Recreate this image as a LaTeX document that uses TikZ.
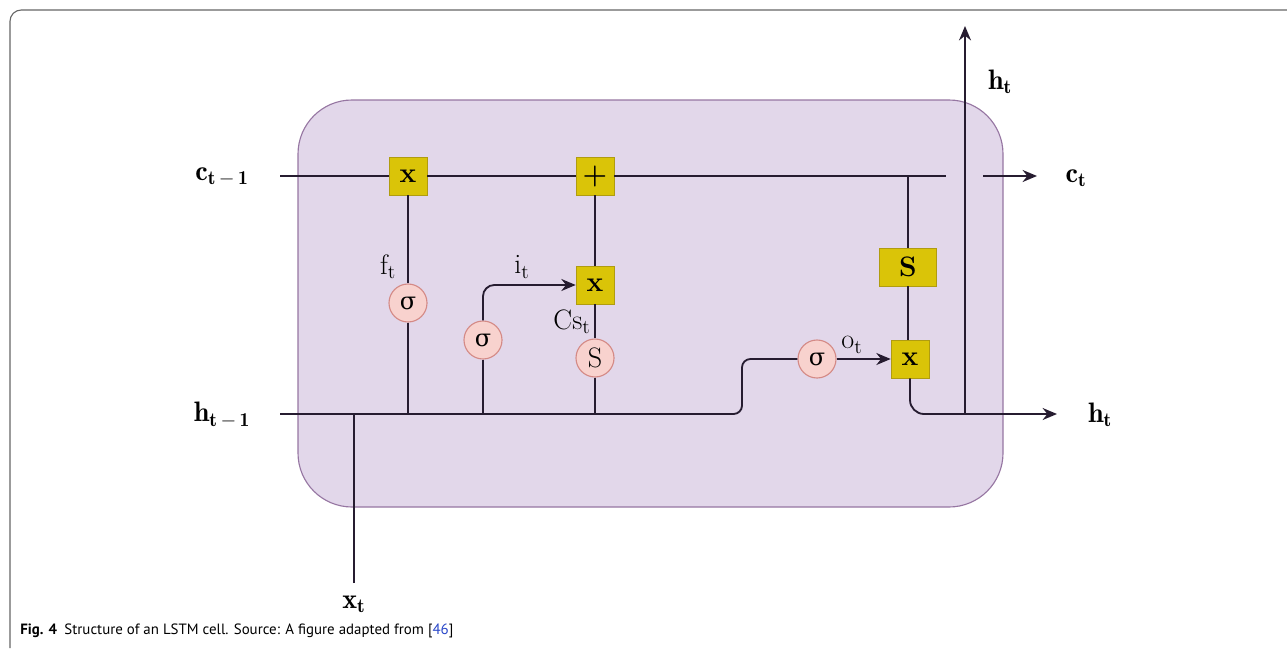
\documentclass[tikz,border=0pt]{standalone}
\usepackage{fontspec}
\newfontfamily\capfont{PT Sans}
\newfontfamily\grkfont{DejaVu Serif}
\usetikzlibrary{arrows.meta, positioning, calc}
\definecolor{cCell}{RGB}{226,215,234}
\definecolor{cCellEdge}{RGB}{150,118,162}
\definecolor{cGate}{RGB}{218,196,8}
\definecolor{cGateEdge}{RGB}{176,156,16}
\definecolor{cAct}{RGB}{248,210,206}
\definecolor{cActEdge}{RGB}{212,138,134}
\definecolor{cWire}{RGB}{38,28,48}
\definecolor{cRef}{RGB}{40,70,200}
\newcommand{\sig}{{\grkfont\fontsize{17}{17}\selectfont σ}}
\tikzset{
	gate/.style ={rectangle, draw=cGateEdge, fill=cGate, minimum width=0.95cm, minimum height=0.95cm, inner sep=0pt, font=\fontsize{20}{20}\selectfont\bfseries},
	act/.style  ={circle, draw=cActEdge, fill=cAct, thick, minimum size=0.95cm, inner sep=0pt, font=\fontsize{20}{20}\selectfont},
	wire/.style ={cWire, line width=1.3pt},
	flow/.style ={wire, -{Stealth[length=3.6mm, width=3mm]}},
	lbl/.style  ={font=\fontsize{20}{22}\selectfont},
}

\begin{document}
\begin{tikzpicture}[x=0.025cm, y=-0.025cm]
	\useasboundingbox (0,0) rectangle (1287,651);
	% page frame
	\draw[gray!80!black, line width=0.8pt, rounded corners=8pt] (10,648) -- (10,10) -- (1287,10);
	% the cell
	\draw[cCellEdge, fill=cCell, line width=0.8pt, rounded corners=1.35cm] (298,100) rectangle (1003,507);

	% gates and activations
	\node[gate] (fx)   at (408,176) {x};
	\node[gate] (addc) at (595,176) {+};
	\node[gate] (ix)   at (595,285) {x};
	\node[gate, minimum width=1.43cm] (tanhS) at (908,267) {S};
	\node[gate] (ox)   at (910,359) {x};
	\node[act]  (sigf) at (408,303) {\sig};
	\node[act]  (sigi) at (483,340) {\sig};
	\node[act]  (sinS) at (595,358) {S};
	\node[act]  (sigo) at (817,359) {\sig};

	% labels
	\node[lbl] (cin)  at (222,177) {$\mathbf{c_{t\,-\,1}}$};
	\node[lbl] (hin)  at (222,415) {$\mathbf{h_{t\,-\,1}}$};
	\node[lbl] (xt)   at (354,604) {$\mathbf{x_t}$};
	\node[lbl] (ct)   at (1076,178) {$\mathbf{c_t}$};
	\node[lbl] (hout) at (1100,415) {$\mathbf{h_t}$};
	\node[lbl] (hup)  at (1000,82) {$\mathbf{h_t}$};
	\node[lbl] (ft)   at (388,267) {$\mathrm{f_t}$};
	\node[lbl] (it)   at (522,267) {$\mathrm{i_t}$};
	\node[lbl] (cst)  at (572,322) {$\mathrm{Cs_t}$};
	\node[lbl] (ot)   at (852,345) {$\mathrm{o_t}$};

	\coordinate (cstart) at (280,176);
	\coordinate (cgap)   at (946,176);
	\coordinate (cback)  at (983,176);
	\coordinate (cend)   at (1037,176);
	\coordinate (hstart) at (280,414);
	\coordinate (hend)   at (1057,414);
	\coordinate (hjoin)  at (965,414);
	\coordinate (htop)   at (965,26);
	\coordinate (xbot)   at (354,583);

	% cell state
	\draw[wire] (cstart) -- (fx) -- (addc) -- (cgap);
	\draw[flow] (cback) -- (cend);
	\draw[wire] (fx) -- (sigf) -- (sigf |- hstart);
	\draw[wire] (addc) -- (ix) -- (sinS) -- (sinS |- hstart);
	\draw[wire] (sigi) -- (sigi |- hstart);
	\draw[flow, rounded corners=8pt] (sigi) |- (ix);
	% hidden state in
	\draw[wire, rounded corners=6pt] (hstart) -- (742,414) -- (742,359) -- (sigo);
	\draw[wire] (xbot) -- (354,414);
	\draw[flow] (sigo) -- (ox);
	% output
	\draw[wire] (908,176) -- (tanhS) -- (tanhS |- ox.north);
	\draw[flow, rounded corners=10pt] (ox) |- (hend);
	\draw[flow] (hjoin) -- (htop);

	% caption
	\node[anchor=west, font=\capfont\fontsize{10.6}{12}\selectfont, inner sep=0pt] (cap) at (20,631)
		{\textbf{Fig. 4}\enspace Structure of an LSTM cell. Source: A figure adapted from [\textcolor{cRef}{46}]};
\end{tikzpicture}
\end{document}
